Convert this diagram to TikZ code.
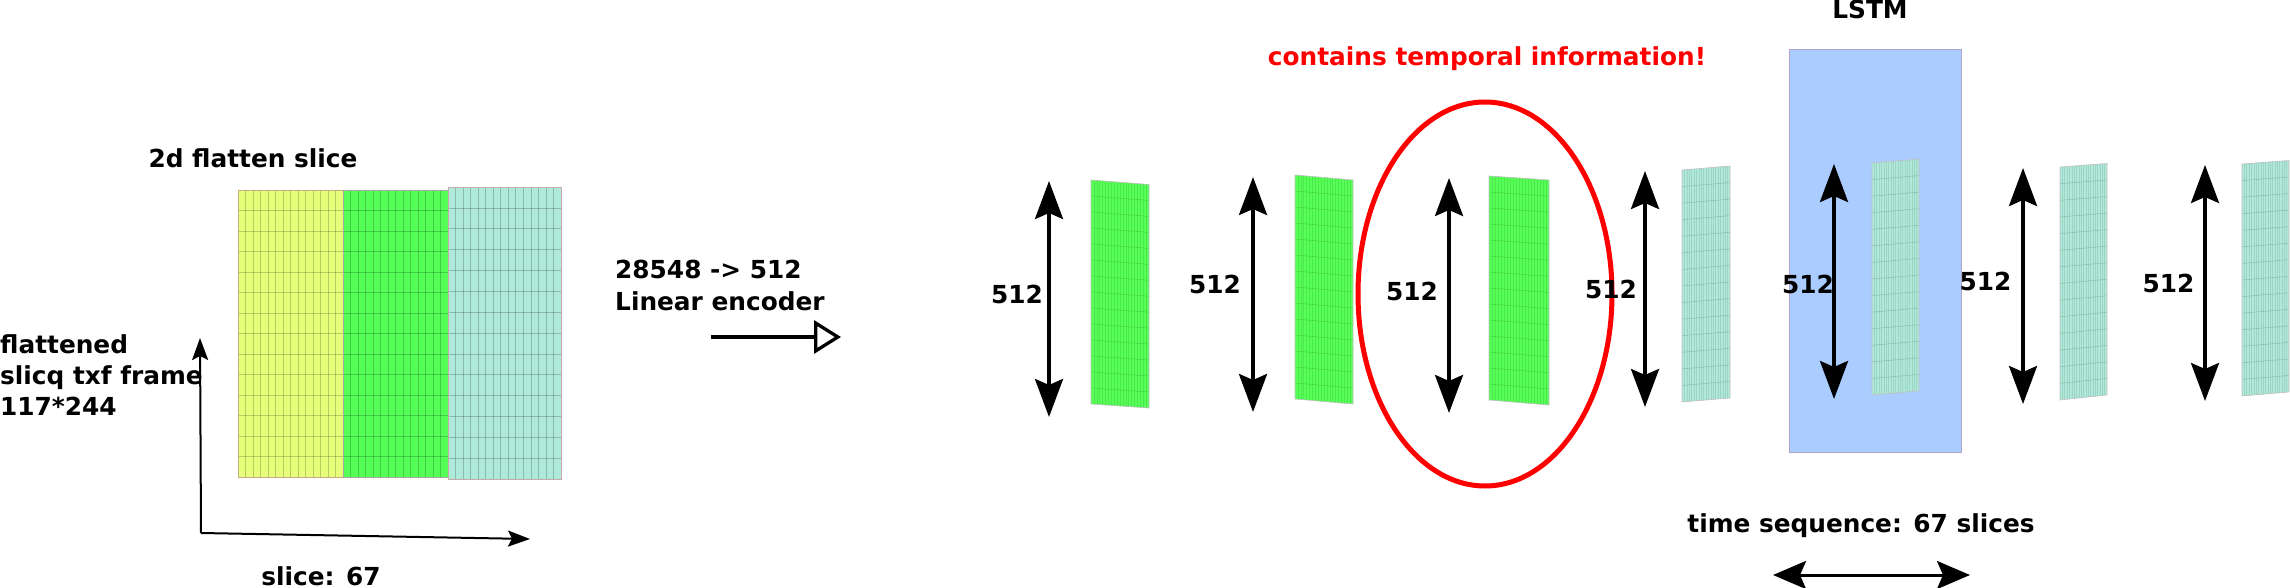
\documentclass[tikz,border=0pt]{standalone}
\usepackage{fontspec}
\setmainfont{DejaVu Sans}
\usetikzlibrary{arrows.meta,calc}
\definecolor{cyel}{HTML}{E5FF7A}
\definecolor{cgrn}{HTML}{55FF55}
\definecolor{ccyn}{HTML}{AEE9D9}
\definecolor{clstm}{HTML}{AACCFF}
\definecolor{clstmb}{HTML}{B4A2C8}
\definecolor{cyelb}{HTML}{C8AA80}
\definecolor{ccynb}{HTML}{C8A8A8}
\definecolor{cred}{HTML}{FF0000}

\newcommand\mypanel[6]{%
  \coordinate (#1tl) at #2;
  \coordinate (#1tr) at #3;
  \coordinate (#1br) at #4;
  \coordinate (#1bl) at #5;
  \fill[#6] (#1tl) -- (#1tr) -- (#1br) -- (#1bl) -- cycle;
  \foreach \i in {1,...,13}{\draw[hgrid] ($(#1tl)!\i/14!(#1bl)$) -- ($(#1tr)!\i/14!(#1br)$);}
  \foreach \j in {1,...,19}{\draw[vgrid] ($(#1tl)!\j/20!(#1tr)$) -- ($(#1bl)!\j/20!(#1br)$);}
  \draw[line width=0.6pt, black!25] (#1tl) -- (#1tr) -- (#1br) -- (#1bl) -- cycle;
}

\newcommand\myblock[8]{%
  \fill[#7] (#1,#2) rectangle (#3,#4);
  \foreach \i in {1,...,#5}{\draw[bgrid] ({#1+(#3-#1)*\i/(#5+1)},#2) -- ({#1+(#3-#1)*\i/(#5+1)},#4);}
  \foreach \i in {1,...,#6}{\draw[bgrid] (#1,{#2+(#4-#2)*\i/(#6+1)}) -- (#3,{#2+(#4-#2)*\i/(#6+1)});}
  \draw[line width=0.8pt, #8] (#1,#2) rectangle (#3,#4);
}

\begin{document}
\begin{tikzpicture}[x=1pt,y=-1pt,
  lbl/.style={font=\fontsize{24.8}{31}\selectfont\bfseries, inner sep=0pt},
  bigtip/.tip={Stealth[length=38pt,width=28pt,inset=6pt]},
  midtip/.tip={Stealth[length=33pt,width=28pt,inset=6pt]},
  dimarr/.style={line width=3.5pt, bigtip-bigtip},
  seqarr/.style={line width=3pt, midtip-midtip},
  axisarr/.style={line width=2pt, -{Stealth[length=22pt,width=16pt,inset=4pt]}},
  hgrid/.style={black, opacity=0.14, line width=0.6pt},
  vgrid/.style={black, opacity=0.09, line width=0.5pt},
  bgrid/.style={black, opacity=0.2, line width=0.7pt},
]
\useasboundingbox (0,0) rectangle (2290,588);

% ---------- left part ----------
\myblock{238}{190}{343}{477}{13}{13}{cyel}{cyelb}
\myblock{343}{190}{448}{477}{13}{13}{cgrn}{black!35}
\myblock{448}{187}{561}{479}{14}{13}{ccyn}{ccynb}

\node[lbl, anchor=base] (t2d) at (253,168) {2d flatten slice};
\node[lbl, anchor=base west] (tfl1) at (0,353) {flattened};
\node[lbl, anchor=base west] (tfl2) at (0,384) {slicq txf frame};
\node[lbl, anchor=base west] (tfl3) at (0,415) {117*244};
\node[lbl, anchor=base] (tslice) at (321,585) {slice: 67};

\coordinate (org) at (201,533);
\coordinate (ytip) at (200,338);
\coordinate (xtip) at (530,539);
\draw[axisarr] (org) -- (ytip);
\draw[axisarr] (org) -- (xtip);

% ---------- encoder ----------
\node[lbl, anchor=base west] (tenc1) at (615,278) {28548 -> 512};
\node[lbl, anchor=base west] (tenc2) at (615,310) {Linear encoder};
\coordinate (e1) at (711,337);
\coordinate (e2) at (841,337);
\draw[line width=3.3pt, -{Triangle[open, length=27pt, width=33pt]}] (e1) -- (e2);

% ---------- LSTM box ----------
\node[draw=clstmb, fill=clstm, line width=1pt, minimum width=172pt, minimum height=402.5pt, inner sep=0pt, anchor=north west] (lstm) at (1789,49.5) {};
\node[lbl, anchor=base] (tlstm) at (1870,19) {LSTM};

% ---------- red ellipse ----------
\draw[cred, line width=5pt] (1485,294) ellipse [x radius=127, y radius=192];
\node[lbl, text=cred, anchor=base] (ttemp) at (1487,66) {contains temporal information!};

% ---------- panels ----------
\mypanel{p1}{(1091,180)}{(1149,184.5)}{(1149,408)}{(1091,404)}{cgrn}
\mypanel{p2}{(1295,175)}{(1353,180)}{(1353,404)}{(1295,399)}{cgrn}
\mypanel{p3}{(1489,176)}{(1549,180)}{(1549,405)}{(1489,400)}{cgrn}
\mypanel{p4}{(1682,170)}{(1730,166)}{(1730,398)}{(1682,402)}{ccyn}
\mypanel{p5}{(1872,163)}{(1919,159)}{(1919,391)}{(1872,395)}{ccyn}
\mypanel{p6}{(2060,167)}{(2107,163.5)}{(2107,395)}{(2060,400)}{ccyn}
\mypanel{p7}{(2242,164)}{(2289,160.5)}{(2289,392)}{(2242,396)}{ccyn}

% ---------- dimension arrows ----------
\foreach \n/\x/\ya/\yb in {1/1049/181/417, 2/1253/177/412, 3/1449/178/413, 4/1645/171/407, 5/1834/164/399, 6/2023/168/404, 7/2205/165/401}{
  \coordinate (a\n t) at (\x,\ya);
  \coordinate (a\n b) at (\x,\yb);
  \draw[dimarr] (a\n t) -- (a\n b);
}

\node[lbl, anchor=base] (l1) at (1017,303) {512};
\node[lbl, anchor=base] (l2) at (1215,293) {512};
\node[lbl, anchor=base] (l3) at (1412,300) {512};
\node[lbl, anchor=base] (l4) at (1611,298) {512};
\node[lbl, anchor=base] (l5) at (1808,293) {512};
\node[lbl, anchor=base] (l6) at (1985.5,290) {512};
\node[lbl, anchor=base] (l7) at (2168.5,292) {512};

% ---------- time sequence ----------
\node[lbl, anchor=base] (ttime) at (1861,532) {time sequence: 67 slices};
\coordinate (s1) at (1773,575);
\coordinate (s2) at (1970,575);
\draw[seqarr] (s1) -- (s2);
\end{tikzpicture}
\end{document}
